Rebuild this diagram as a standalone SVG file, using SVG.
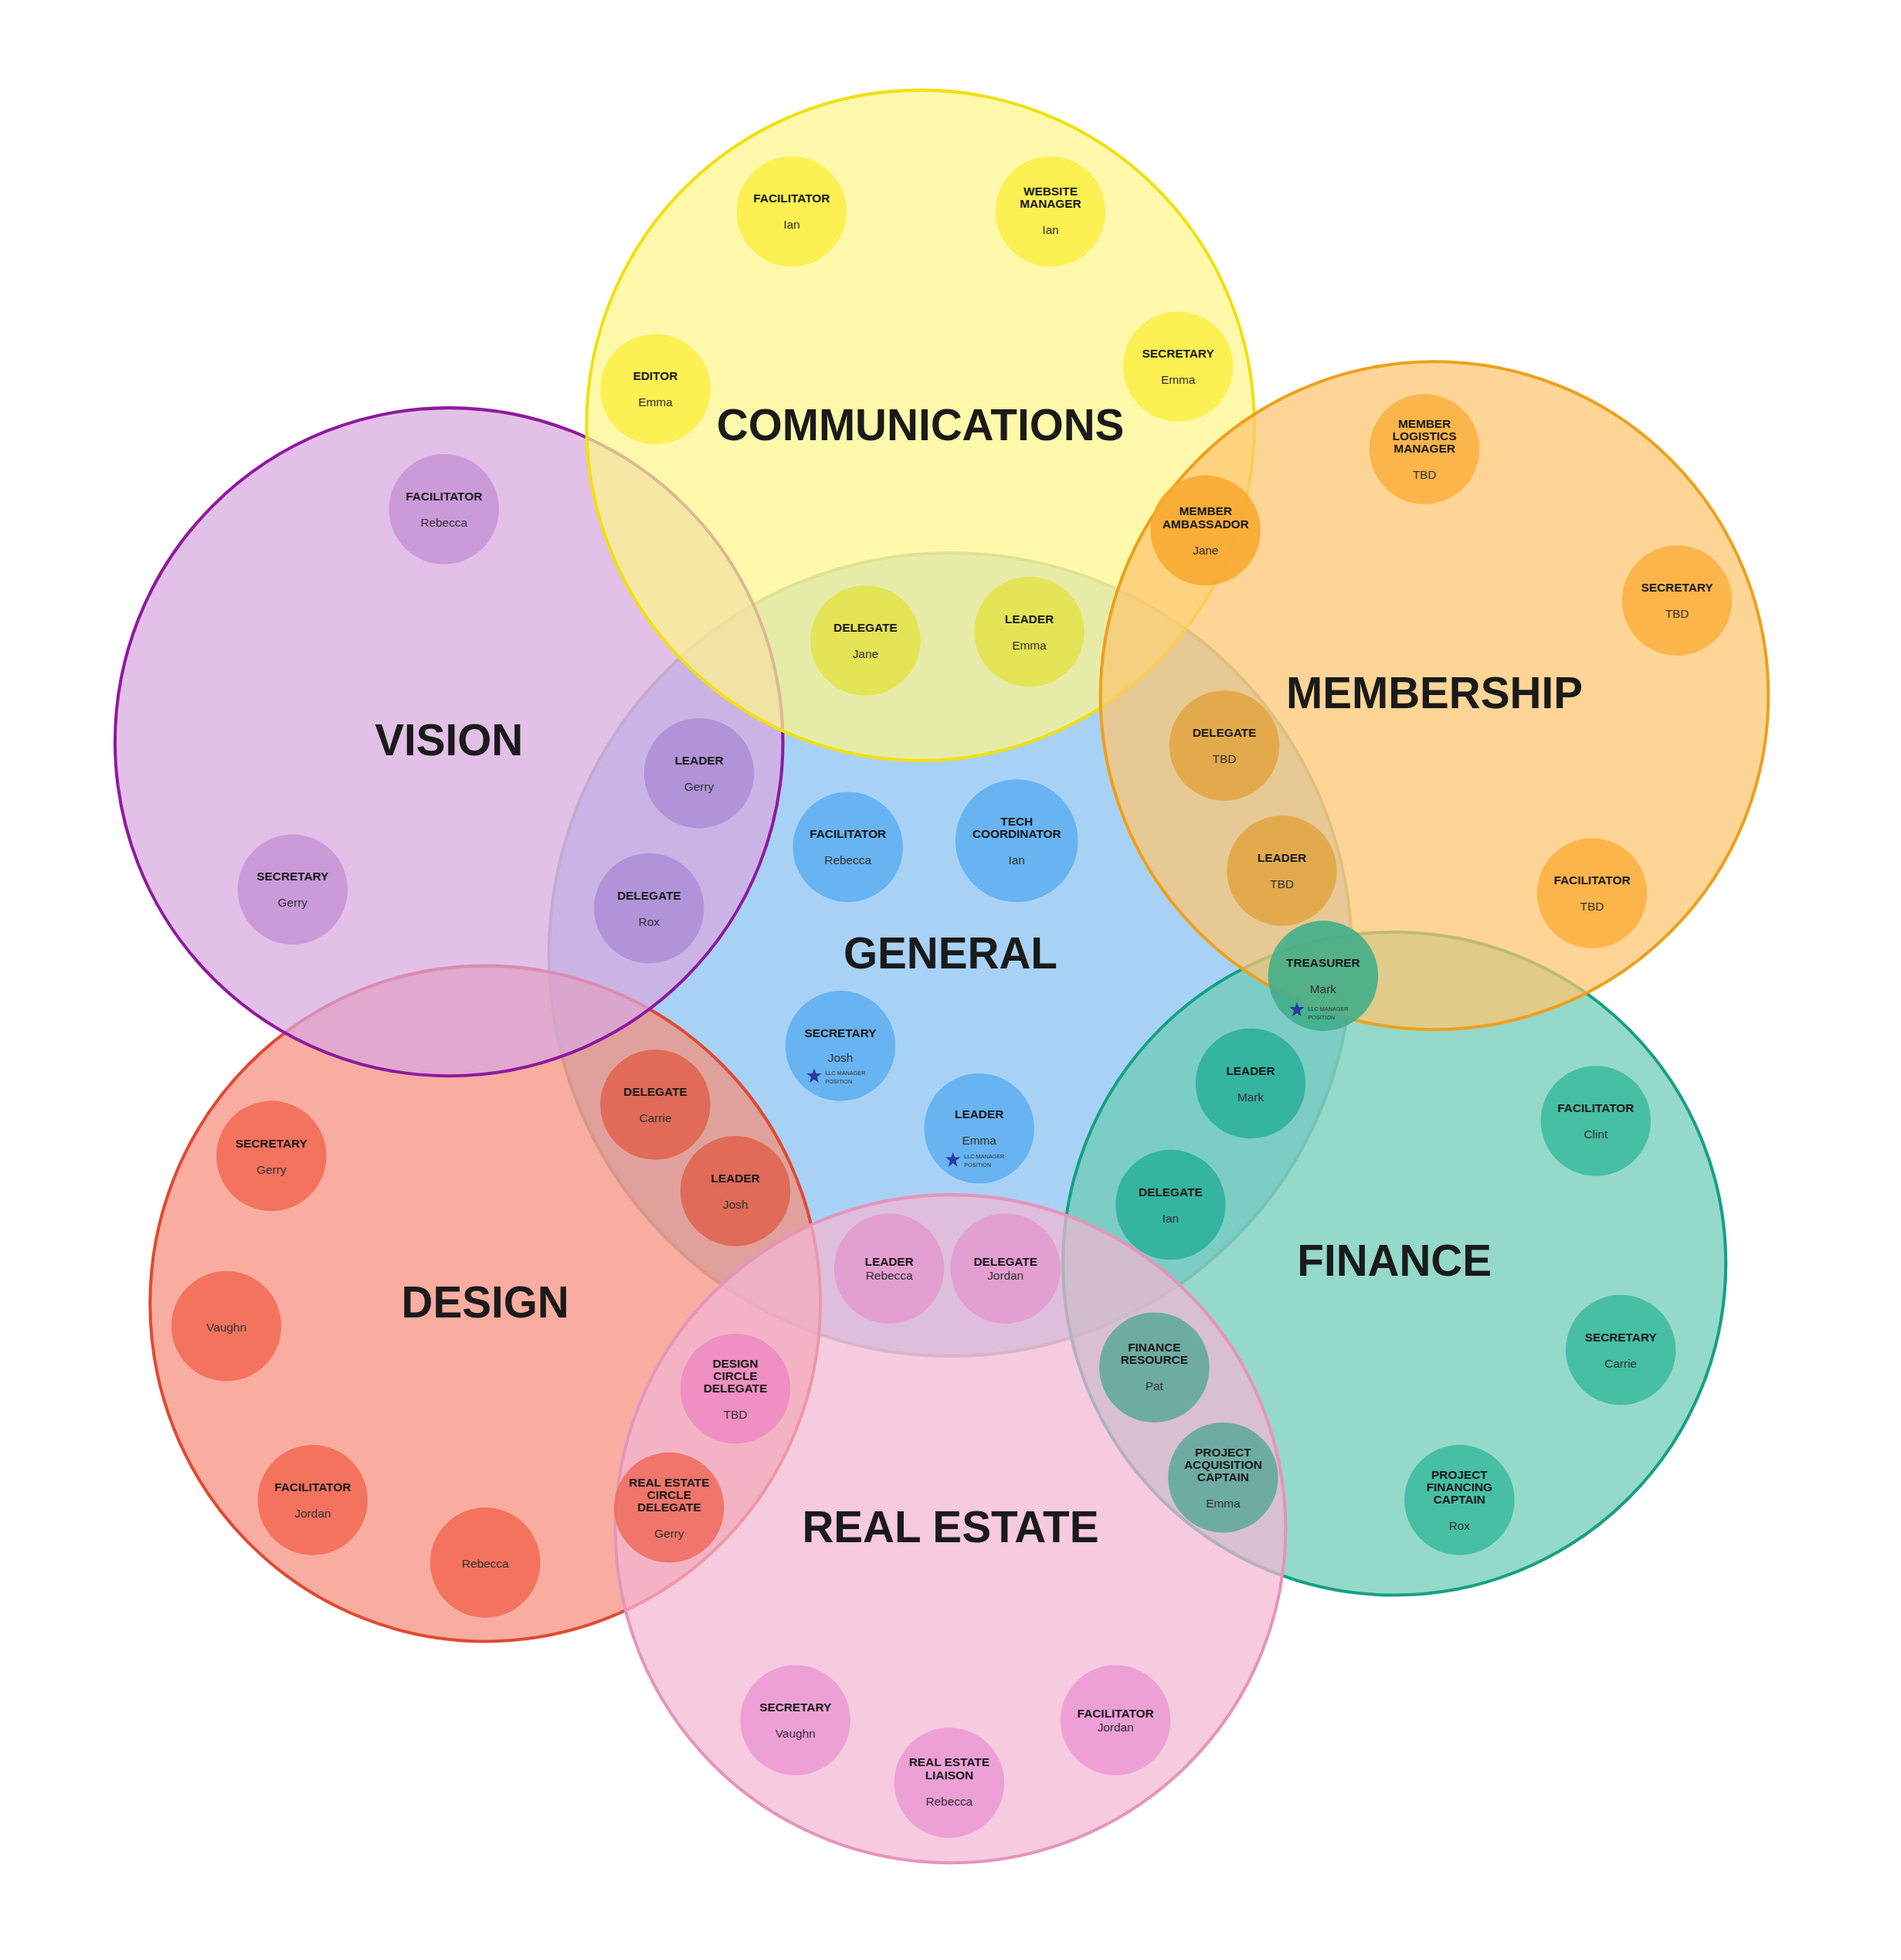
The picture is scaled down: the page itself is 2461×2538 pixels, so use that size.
<svg xmlns="http://www.w3.org/2000/svg" width="2461" height="2538" viewBox="0 0 2461 2538">
<style>
.t{font-family:"Liberation Sans",Arial,sans-serif;font-weight:bold;fill:#1a1a1a;text-anchor:middle}
.r{font-family:"Liberation Sans",Arial,sans-serif;font-weight:bold;font-size:9.5px;fill:#1a1a1a;text-anchor:middle}
.n{font-family:"Liberation Sans",Arial,sans-serif;font-size:9.5px;fill:#333;text-anchor:middle}
.l{font-family:"Liberation Sans",Arial,sans-serif;font-size:4.5px;fill:#333}
.big{stroke-width:2.5;fill-opacity:0.72}
.s{fill-opacity:0.88}
.st{fill:#2b3a9e}
</style>
<defs><polygon id="star" points="0,-6 1.5,-2 6,-2 2.4,0.8 3.6,5.5 0,2.8 -3.6,5.5 -2.4,0.8 -6,-2 -1.5,-2"/></defs>
<rect width="2461" height="2538" fill="#fff"/>
<g transform="scale(1.619,1.620)">
<g id="circles">
<ellipse class="big" cx="760" cy="763" rx="321" ry="321" fill="#86c1f1" stroke="#8fb3a6"/>
<ellipse class="big" cx="1115" cy="1010" rx="265" ry="265" fill="#6ccab5" stroke="#16a085"/>
<ellipse class="big" cx="388" cy="1042" rx="268" ry="270" fill="#f58e7b" stroke="#e04a32"/>
<ellipse class="big" cx="359" cy="593" rx="267" ry="267" fill="#d8a8df" stroke="#8e1a9e"/>
<ellipse class="big" cx="736" cy="340" rx="267" ry="268" fill="#fdf58a" stroke="#f0e010"/>
<ellipse class="big" cx="1147" cy="556" rx="267" ry="267" fill="#fdc56f" stroke="#eea01c"/>
<ellipse class="big" cx="760" cy="1222" rx="268" ry="267" fill="#f2b5d2" stroke="#e594bb"/>
</g>
<g id="titles">
<text class="t" x="736" y="352" font-size="35">COMMUNICATIONS</text>
<text class="t" x="359" y="604" font-size="35">VISION</text>
<text class="t" x="1147" y="566" font-size="35">MEMBERSHIP</text>
<text class="t" x="760" y="774" font-size="35">GENERAL</text>
<text class="t" x="388" y="1053" font-size="35">DESIGN</text>
<text class="t" x="1115" y="1020" font-size="35">FINANCE</text>
<text class="t" x="760" y="1233" font-size="35">REAL ESTATE</text>
</g>
<g id="comm-facilitator"><circle class="s" cx="633" cy="169" r="44" fill="#fcee45"/><text class="r" x="633" y="162">FACILITATOR</text><text class="n" x="633" y="183">Ian</text></g>
<g id="comm-website"><circle class="s" cx="840" cy="169" r="44" fill="#fcee45"/><text class="r" x="840" y="156">WEBSITE</text><text class="r" x="840" y="166">MANAGER</text><text class="n" x="840" y="187">Ian</text></g>
<g id="comm-editor"><circle class="s" cx="524" cy="311" r="44" fill="#fcee45"/><text class="r" x="524" y="304">EDITOR</text><text class="n" x="524" y="325">Emma</text></g>
<g id="comm-secretary"><circle class="s" cx="942" cy="293" r="44" fill="#fcee45"/><text class="r" x="942" y="286">SECRETARY</text><text class="n" x="942" y="307">Emma</text></g>
<g id="comm-delegate"><circle class="s" cx="692" cy="512" r="44" fill="#e4e24a"/><text class="r" x="692" y="505">DELEGATE</text><text class="n" x="692" y="526">Jane</text></g>
<g id="comm-leader"><circle class="s" cx="823" cy="505" r="44" fill="#e4e24a"/><text class="r" x="823" y="498">LEADER</text><text class="n" x="823" y="519">Emma</text></g>
<g id="vis-facilitator"><circle class="s" cx="355" cy="407" r="44" fill="#c794d6"/><text class="r" x="355" y="400">FACILITATOR</text><text class="n" x="355" y="421">Rebecca</text></g>
<g id="vis-secretary"><circle class="s" cx="234" cy="711" r="44" fill="#c794d6"/><text class="r" x="234" y="704">SECRETARY</text><text class="n" x="234" y="725">Gerry</text></g>
<g id="vis-leader"><circle class="s" cx="559" cy="618" r="44" fill="#ad8ed8"/><text class="r" x="559" y="611">LEADER</text><text class="n" x="559" y="632">Gerry</text></g>
<g id="vis-delegate"><circle class="s" cx="519" cy="726" r="44" fill="#ad8ed8"/><text class="r" x="519" y="719">DELEGATE</text><text class="n" x="519" y="740">Rox</text></g>
<g id="mem-logistics"><circle class="s" cx="1139" cy="359" r="44" fill="#fbb040"/><text class="r" x="1139" y="342">MEMBER</text><text class="r" x="1139" y="352">LOGISTICS</text><text class="r" x="1139" y="362">MANAGER</text><text class="n" x="1139" y="383">TBD</text></g>
<g id="mem-secretary"><circle class="s" cx="1341" cy="480" r="44" fill="#fbb040"/><text class="r" x="1341" y="473">SECRETARY</text><text class="n" x="1341" y="494">TBD</text></g>
<g id="mem-facilitator"><circle class="s" cx="1273" cy="714" r="44" fill="#fbb040"/><text class="r" x="1273" y="707">FACILITATOR</text><text class="n" x="1273" y="728">TBD</text></g>
<g id="mem-ambassador"><circle class="s" cx="964" cy="424" r="44" fill="#f8a82e"/><text class="r" x="964" y="412">MEMBER</text><text class="r" x="964" y="422">AMBASSADOR</text><text class="n" x="964" y="443">Jane</text></g>
<g id="mem-delegate"><circle class="s" cx="979" cy="596" r="44" fill="#e3a543"/><text class="r" x="979" y="589">DELEGATE</text><text class="n" x="979" y="610">TBD</text></g>
<g id="mem-leader"><circle class="s" cx="1025" cy="696" r="44" fill="#e3a543"/><text class="r" x="1025" y="689">LEADER</text><text class="n" x="1025" y="710">TBD</text></g>
<g id="gen-facilitator"><circle class="s" cx="678" cy="677" r="44" fill="#5eaef0"/><text class="r" x="678" y="670">FACILITATOR</text><text class="n" x="678" y="691">Rebecca</text></g>
<g id="gen-tech"><circle class="s" cx="813" cy="672" r="49" fill="#5eaef0"/><text class="r" x="813" y="660">TECH</text><text class="r" x="813" y="670">COORDINATOR</text><text class="n" x="813" y="691">Ian</text></g>
<g id="gen-secretary"><circle class="s" cx="672" cy="836" r="44" fill="#5eaef0"/><text class="r" x="672" y="829">SECRETARY</text><text class="n" x="672" y="849">Josh</text><use href="#star" class="st" x="651" y="860"/><text class="l" x="660" y="859">LLC MANAGER</text><text class="l" x="660" y="866">POSITION</text></g>
<g id="gen-leader"><circle class="s" cx="783" cy="902" r="44" fill="#5eaef0"/><text class="r" x="783" y="894">LEADER</text><text class="n" x="783" y="915">Emma</text><use href="#star" class="st" x="762" y="927"/><text class="l" x="771" y="926">LLC MANAGER</text><text class="l" x="771" y="933">POSITION</text></g>
<g id="fin-treasurer"><circle class="s" cx="1058" cy="780" r="44" fill="#3fae8a"/><text class="r" x="1058" y="773">TREASURER</text><text class="n" x="1058" y="794">Mark</text><use href="#star" class="st" x="1037" y="807"/><text class="l" x="1046" y="808">LLC MANAGER</text><text class="l" x="1046" y="815">POSITION</text></g>
<g id="fin-leader"><circle class="s" cx="1000" cy="866" r="44" fill="#2bb19b"/><text class="r" x="1000" y="859">LEADER</text><text class="n" x="1000" y="880">Mark</text></g>
<g id="fin-delegate"><circle class="s" cx="936" cy="963" r="44" fill="#2bb19b"/><text class="r" x="936" y="956">DELEGATE</text><text class="n" x="936" y="977">Ian</text></g>
<g id="fin-facilitator"><circle class="s" cx="1276" cy="896" r="44" fill="#3cbb9f"/><text class="r" x="1276" y="889">FACILITATOR</text><text class="n" x="1276" y="910">Clint</text></g>
<g id="fin-secretary"><circle class="s" cx="1296" cy="1079" r="44" fill="#3cbb9f"/><text class="r" x="1296" y="1072">SECRETARY</text><text class="n" x="1296" y="1093">Carrie</text></g>
<g id="fin-projfin"><circle class="s" cx="1167" cy="1199" r="44" fill="#3cbb9f"/><text class="r" x="1167" y="1182">PROJECT</text><text class="r" x="1167" y="1192">FINANCING</text><text class="r" x="1167" y="1202">CAPTAIN</text><text class="n" x="1167" y="1223">Rox</text></g>
<g id="fin-resource"><circle class="s" cx="923" cy="1093" r="44" fill="#5fa89b"/><text class="r" x="923" y="1080">FINANCE</text><text class="r" x="923" y="1090">RESOURCE</text><text class="n" x="923" y="1111">Pat</text></g>
<g id="fin-projacq"><circle class="s" cx="978" cy="1181" r="44" fill="#5fa89b"/><text class="r" x="978" y="1164">PROJECT</text><text class="r" x="978" y="1174">ACQUISITION</text><text class="r" x="978" y="1184">CAPTAIN</text><text class="n" x="978" y="1205">Emma</text></g>
<g id="des-delegate"><circle class="s" cx="524" cy="883" r="44" fill="#df6350"/><text class="r" x="524" y="876">DELEGATE</text><text class="n" x="524" y="897">Carrie</text></g>
<g id="des-leader"><circle class="s" cx="588" cy="952" r="44" fill="#df6350"/><text class="r" x="588" y="945">LEADER</text><text class="n" x="588" y="966">Josh</text></g>
<g id="des-secretary"><circle class="s" cx="217" cy="924" r="44" fill="#f26b55"/><text class="r" x="217" y="917">SECRETARY</text><text class="n" x="217" y="938">Gerry</text></g>
<g id="des-vaughn"><circle class="s" cx="181" cy="1060" r="44" fill="#f26b55"/><text class="n" x="181" y="1064">Vaughn</text></g>
<g id="des-facilitator"><circle class="s" cx="250" cy="1199" r="44" fill="#f26b55"/><text class="r" x="250" y="1192">FACILITATOR</text><text class="n" x="250" y="1213">Jordan</text></g>
<g id="des-rebecca"><circle class="s" cx="388" cy="1249" r="44" fill="#f26b55"/><text class="n" x="388" y="1253">Rebecca</text></g>
<g id="re-leader"><circle class="s" cx="711" cy="1014" r="44" fill="#e49ad0"/><text class="r" x="711" y="1012">LEADER</text><text class="n" x="711" y="1023">Rebecca</text></g>
<g id="re-delegate"><circle class="s" cx="804" cy="1014" r="44" fill="#e49ad0"/><text class="r" x="804" y="1012">DELEGATE</text><text class="n" x="804" y="1023">Jordan</text></g>
<g id="re-designdel"><circle class="s" cx="588" cy="1110" r="44" fill="#ee8ac2"/><text class="r" x="588" y="1093">DESIGN</text><text class="r" x="588" y="1103">CIRCLE</text><text class="r" x="588" y="1113">DELEGATE</text><text class="n" x="588" y="1134">TBD</text></g>
<g id="re-redel"><circle class="s" cx="535" cy="1205" r="44" fill="#ef6c5e"/><text class="r" x="535" y="1188">REAL ESTATE</text><text class="r" x="535" y="1198">CIRCLE</text><text class="r" x="535" y="1208">DELEGATE</text><text class="n" x="535" y="1229">Gerry</text></g>
<g id="re-secretary"><circle class="s" cx="636" cy="1375" r="44" fill="#ec9ad5"/><text class="r" x="636" y="1368">SECRETARY</text><text class="n" x="636" y="1389">Vaughn</text></g>
<g id="re-liaison"><circle class="s" cx="759" cy="1425" r="44" fill="#ec9ad5"/><text class="r" x="759" y="1412">REAL ESTATE</text><text class="r" x="759" y="1422">LIAISON</text><text class="n" x="759" y="1443">Rebecca</text></g>
<g id="re-facilitator"><circle class="s" cx="892" cy="1375" r="44" fill="#ec9ad5"/><text class="r" x="892" y="1373">FACILITATOR</text><text class="n" x="892" y="1384">Jordan</text></g>
<g id="connectors"/>
</g>
</svg>
